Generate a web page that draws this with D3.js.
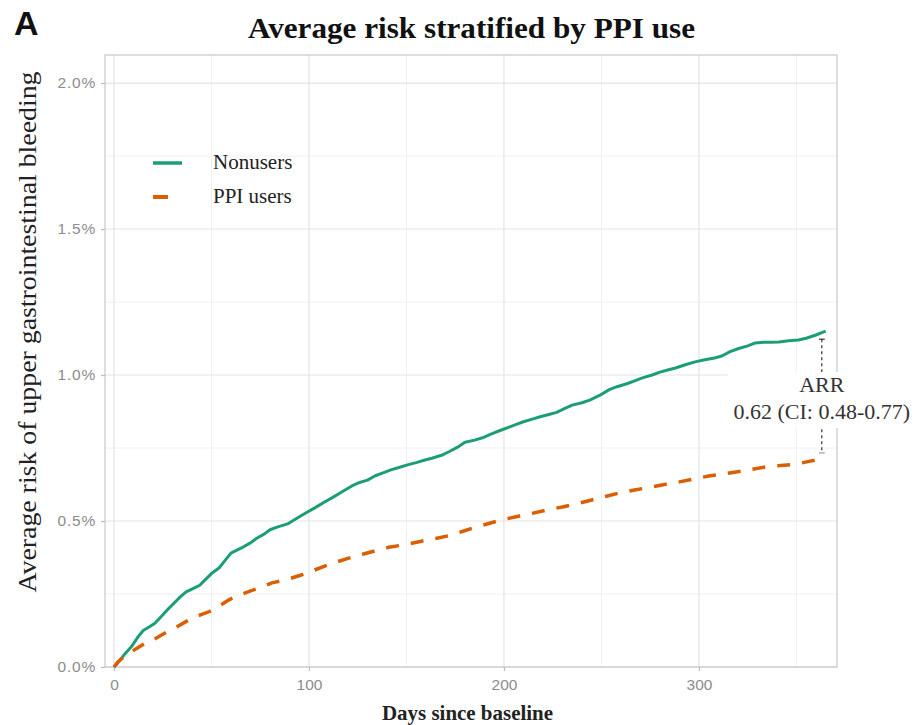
<!DOCTYPE html>
<html>
<head>
<meta charset="utf-8">
<script src="https://cdn.jsdelivr.net/npm/d3@7"></script>
<style>
  html, body { margin: 0; padding: 0; background: #fff; }
  svg { display: block; }
</style>
</head>
<body>
<svg id="chart" width="915" height="725"></svg>
<script>
// ---- data ----
const seriesNames = ["Nonusers", "PPI users"];
const seriesColors = ["#1B9E77", "#D95F02"];

const nonusersDays = [0,2,5,9,12,15,18,21,25,28,31,34,37,41,44,47,50,54,57,60,63,66,70,73,77,80,84,89,94,99,103,108,112,117,122,126,130,134,138,142,147,151,155,159,163,168,172,176,180,185,189,193,198,202,206,210,215,219,223,227,231,235,240,244,249,254,258,263,267,271,276,280,284,288,293,298,303,308,312,316,320,325,329,333,337,341,346,351,355,360,363,365];
const nonusersRisk = [0,0.014,0.04,0.07,0.10,0.125,0.137,0.15,0.178,0.20,0.22,0.24,0.257,0.27,0.28,0.30,0.32,0.34,0.365,0.39,0.40,0.41,0.425,0.44,0.455,0.47,0.48,0.49,0.51,0.53,0.545,0.565,0.58,0.60,0.62,0.632,0.64,0.655,0.665,0.675,0.685,0.693,0.70,0.708,0.715,0.725,0.738,0.752,0.77,0.777,0.785,0.797,0.81,0.82,0.83,0.84,0.85,0.858,0.865,0.872,0.885,0.897,0.905,0.914,0.93,0.95,0.96,0.97,0.98,0.99,1.0,1.01,1.017,1.024,1.035,1.045,1.052,1.058,1.066,1.08,1.09,1.10,1.11,1.112,1.112,1.113,1.117,1.12,1.126,1.137,1.145,1.15];

const ppiDays = [0,2,6,12,17,22,27,31,36,40,45,49,53,59,63,67,74,81,88,96,102,112,120,128,135,141,150,157,165,172,179,186,194,201,208,215,222,230,238,245,252,259,267,275,283,290,298,305,312,319,327,334,342,350,357,362,365];
const ppiRisk = [0,0.017,0.04,0.065,0.085,0.10,0.12,0.133,0.152,0.168,0.18,0.19,0.205,0.23,0.243,0.253,0.27,0.288,0.298,0.315,0.33,0.355,0.372,0.387,0.40,0.41,0.42,0.43,0.44,0.45,0.465,0.48,0.495,0.507,0.517,0.527,0.538,0.548,0.56,0.572,0.584,0.596,0.606,0.616,0.626,0.634,0.645,0.654,0.661,0.668,0.677,0.685,0.69,0.695,0.705,0.712,0.716];

const xMajorTicks = [0, 100, 200, 300];
const xMinorTicks = [50, 150, 250, 350];
const yMajorTicks = [0, 0.5, 1.0, 1.5, 2.0];
const yMinorTicks = [0.25, 0.75, 1.25, 1.75];

const titleText = "Average risk stratified by PPI use";
const panelLetter = "A";
const xTitle = "Days since baseline";
const yTitle = "Average risk of upper gastrointestinal bleeding";
const arrDay = 363;
const arrLines = ["ARR", "0.62 (CI: 0.48-0.77)"];

// ---- layout ----
const svg = d3.select("#chart");
const panel = { left: 105, right: 837, top: 55, bottom: 667 };

const x = d3.scaleLinear().domain([-4.6, 370.8]).range([panel.left, panel.right]);
const y = d3.scaleLinear().domain([0, 2.096]).range([panel.bottom, panel.top]);

const serif = "'Liberation Serif', 'DejaVu Serif', 'Times New Roman', serif";
const sans = "'Liberation Sans', Arial, Helvetica, sans-serif";

// gridlines
const g = svg.append("g");
g.selectAll("line.xminor").data(xMinorTicks).enter().append("line")
  .attr("x1", d => x(d)).attr("x2", d => x(d))
  .attr("y1", panel.top).attr("y2", panel.bottom)
  .attr("stroke", "#F0F0F0").attr("stroke-width", 1);
g.selectAll("line.yminor").data(yMinorTicks).enter().append("line")
  .attr("y1", d => y(d)).attr("y2", d => y(d))
  .attr("x1", panel.left).attr("x2", panel.right)
  .attr("stroke", "#F0F0F0").attr("stroke-width", 1);
g.selectAll("line.xmajor").data(xMajorTicks).enter().append("line")
  .attr("x1", d => x(d)).attr("x2", d => x(d))
  .attr("y1", panel.top).attr("y2", panel.bottom)
  .attr("stroke", "#E3E3E3").attr("stroke-width", 1.2);
g.selectAll("line.ymajor").data(yMajorTicks).enter().append("line")
  .attr("y1", d => y(d)).attr("y2", d => y(d))
  .attr("x1", panel.left).attr("x2", panel.right)
  .attr("stroke", "#E3E3E3").attr("stroke-width", 1.2);

// panel border
svg.append("rect")
  .attr("x", panel.left).attr("y", panel.top)
  .attr("width", panel.right - panel.left).attr("height", panel.bottom - panel.top)
  .attr("fill", "none").attr("stroke", "#C8C8C8").attr("stroke-width", 1.2);

// axes
const xAxis = d3.axisBottom(x).tickValues(xMajorTicks).tickSize(4).tickPadding(8).tickFormat(d3.format("d"));
const yAxis = d3.axisLeft(y).tickValues(yMajorTicks).tickSize(4).tickPadding(5).tickFormat(d => d.toFixed(1) + "%");

const gx = svg.append("g").attr("transform", `translate(0,${panel.bottom})`).call(xAxis);
const gy = svg.append("g").attr("transform", `translate(${panel.left},0)`).call(yAxis);
[gx, gy].forEach(ax => {
  ax.select(".domain").remove();
  ax.selectAll(".tick line").attr("stroke", "#BBBBBB").attr("stroke-width", 1.2);
  ax.selectAll(".tick text").attr("fill", "#8C8C8C")
    .style("font-family", sans).style("font-size", "15.5px");
});
gy.selectAll(".tick text").style("letter-spacing", "0.8px");

// lines
const line = d3.line().x(d => x(d[0])).y(d => y(d[1])).curve(d3.curveLinear);
const nonusers = nonusersDays.map((d, i) => [d, nonusersRisk[i]]);
const ppi = ppiDays.map((d, i) => [d, ppiRisk[i]]);

// ARR annotation dashed segment (behind label)
const arrX = x(arrDay);
const yTop = y(nonusersRisk[nonusersRisk.length - 1]) + 8;
const yBot = y(ppiRisk[ppiRisk.length - 1]) - 5;
svg.append("line").attr("x1", arrX).attr("x2", arrX).attr("y1", yTop).attr("y2", yBot)
  .attr("stroke", "#333").attr("stroke-width", 1.2).attr("stroke-dasharray", "3,3");
svg.append("line").attr("x1", arrX - 3).attr("x2", arrX + 3).attr("y1", yTop).attr("y2", yTop)
  .attr("stroke", "#333").attr("stroke-width", 1.2);
svg.append("line").attr("x1", arrX - 3).attr("x2", arrX + 3).attr("y1", yBot).attr("y2", yBot)
  .attr("stroke", "#888").attr("stroke-width", 1);

svg.append("path").datum(nonusers).attr("d", line)
  .attr("fill", "none").attr("stroke", seriesColors[0]).attr("stroke-width", 3)
  .attr("stroke-linejoin", "round");
svg.append("path").datum(ppi).attr("d", line)
  .attr("fill", "none").attr("stroke", seriesColors[1]).attr("stroke-width", 3.5)
  .attr("stroke-dasharray", "13,12");

// ARR label with white background
svg.append("rect").attr("x", arrX - 94).attr("y", 372).attr("width", 190).attr("height", 56)
  .attr("fill", "#fff");
const lab = svg.append("text").attr("text-anchor", "middle")
  .style("font-family", serif).style("font-size", "22px").attr("fill", "#333");
arrLines.forEach((t, i) => {
  lab.append("tspan").attr("x", arrX).attr("y", 392 + i * 27).text(t);
});

// legend
const legend = svg.append("g");
seriesNames.forEach((name, i) => {
  const ly = 163 + i * 34;
  legend.append("line").attr("x1", 153).attr("x2", i === 0 ? 182 : 168)
    .attr("y1", ly).attr("y2", ly)
    .attr("stroke", seriesColors[i]).attr("stroke-width", i === 0 ? 3.5 : 4);
  legend.append("text").attr("x", 213).attr("y", ly + 6)
    .style("font-family", serif).style("font-size", "21px").attr("fill", "#222").text(name);
});

// titles
svg.append("text").attr("x", 471.5).attr("y", 38)
  .attr("text-anchor", "middle").style("font-family", serif).style("font-weight", "bold")
  .style("font-size", "30px").attr("fill", "#111")
  .attr("textLength", 447).attr("lengthAdjust", "spacingAndGlyphs").text(titleText);
svg.append("text").attr("x", 14).attr("y", 35)
  .style("font-family", sans).style("font-weight", "bold")
  .style("font-size", "34px").attr("fill", "#111").text(panelLetter);
svg.append("text").attr("x", 467.5).attr("y", 720)
  .attr("text-anchor", "middle").style("font-family", serif).style("font-weight", "bold")
  .style("font-size", "21px").attr("fill", "#222")
  .attr("textLength", 171).attr("lengthAdjust", "spacingAndGlyphs").text(xTitle);
svg.append("text").attr("transform", `translate(36,332) rotate(-90)`)
  .attr("text-anchor", "middle").style("font-family", serif)
  .style("font-size", "26px").attr("fill", "#222")
  .attr("textLength", 521).attr("lengthAdjust", "spacingAndGlyphs").text(yTitle);
</script>
</body>
</html>
